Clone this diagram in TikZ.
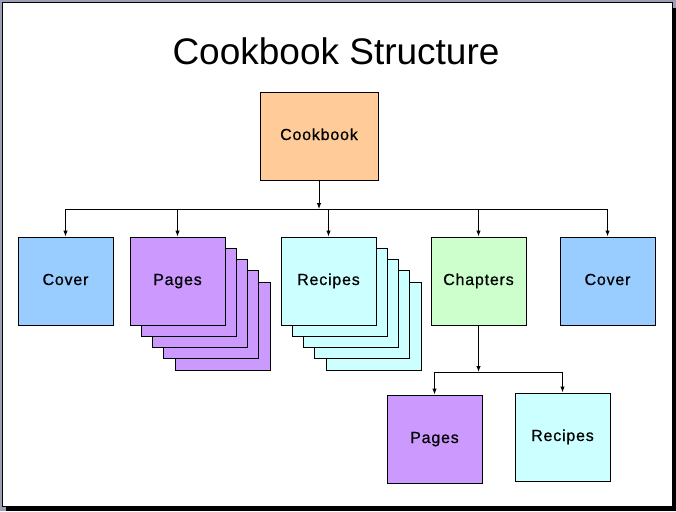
\documentclass[tikz,border=0pt]{standalone}
\usepackage{fontspec}
\setmainfont{Liberation Sans}
\newfontfamily\labelfont[LetterSpace=5,FakeBold=0.6]{Liberation Sans}
\usetikzlibrary{arrows.meta}

\definecolor{peach}{HTML}{FFCC99}
\definecolor{coverblue}{HTML}{99CCFF}
\definecolor{pagepurple}{HTML}{CC99FF}
\definecolor{recipecyan}{HTML}{CCFFFF}
\definecolor{chaptergreen}{HTML}{CCFFCC}
\definecolor{slidegray}{HTML}{9CA0B4}

\begin{document}
\begin{tikzpicture}[
    x=1pt, y=-1pt,
    >={Latex[length=6pt,width=4.5pt]},
    box/.style={
        draw,
        line width=1pt,
        minimum width=95pt,
        minimum height=88pt,
        inner sep=0pt,
        text height=11.5pt,
        text depth=3.5pt,
        align=center,
        font=\labelfont\fontsize{16}{18}\selectfont
    },
    arr/.style={
        ->,
        line width=1pt
    },
    bus/.style={
        line width=1pt
    }
]
    % slide frame
    \useasboundingbox (0,0) rectangle (676,511);
    \fill[slidegray] (0,0) rectangle (676,511);
    \fill[black] (6,8) rectangle (676,511);
    \filldraw[fill=white, draw=black, line width=1pt] (2,3) rectangle (672,506);

    \node[anchor=base, font=\fontsize{37}{40}\selectfont] (title) at (336,64)
        {Cookbook Structure};

    \node[box, fill=peach, minimum width=118pt] (cookbook) at (319,136)
        {Cookbook};

    % stacked sheets behind pages and recipes
    \foreach \i in {4,3,2,1} {
        \node[box, fill=pagepurple] (pages-\i) at (177.5+11.3*\i,281+11.3*\i) {};
        \node[box, fill=recipecyan] (recipes-\i) at (328.5+11.3*\i,281+11.3*\i) {};
    }

    \node[box, fill=coverblue] (cover-front) at (65.5,281) {Cover};
    \node[box, fill=pagepurple] (pages) at (177.5,281) {Pages};
    \node[box, fill=recipecyan] (recipes) at (328.5,281) {Recipes};
    \node[box, fill=chaptergreen] (chapters) at (478.5,281) {Chapters};
    \node[box, fill=coverblue] (cover-back) at (607.5,281) {Cover};

    \node[box, fill=pagepurple] (chapter-pages) at (434.5,439) {Pages};
    \node[box, fill=recipecyan] (chapter-recipes) at (562.5,437) {Recipes};

    % top level connectors
    \coordinate (top-bus) at (319,209);
    \draw[arr] (cookbook) -- (top-bus);
    \draw[bus] (cover-front |- top-bus) -- (cover-back |- top-bus);
    \foreach \n in {cover-front,pages,recipes,chapters,cover-back}
        \draw[arr] (\n |- top-bus) -- (\n);

    % chapter connectors
    \coordinate (chapter-bus) at (478.5,372);
    \draw[arr] (chapters) -- (chapter-bus);
    \draw[bus] (chapter-pages |- chapter-bus) -- (chapter-recipes |- chapter-bus);
    \draw[arr] (chapter-pages |- chapter-bus) -- (chapter-pages);
    \draw[arr] (chapter-recipes |- chapter-bus) -- (chapter-recipes);

\end{tikzpicture}
\end{document}
